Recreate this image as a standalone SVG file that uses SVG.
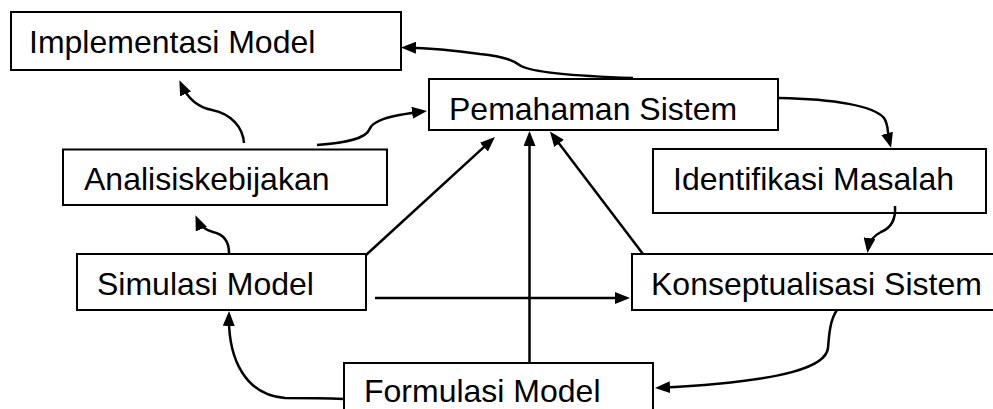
<svg xmlns="http://www.w3.org/2000/svg" width="993" height="409" viewBox="0 0 993 409">
  <style>
    .box { fill: #ffffff; stroke: #000000; stroke-width: 2; }
    .label { font-family: "Liberation Sans", Arial, sans-serif; font-size: 32px; fill: #000000; }
    .link { fill: none; stroke: #000000; stroke-width: 2.5; marker-end: url(#head); }
  </style>
  <defs>
    <marker id="head" markerUnits="userSpaceOnUse" viewBox="0 0 15 12" markerWidth="15" markerHeight="12" refX="11" refY="6" orient="auto">
      <path d="M0,0 L15,6 L0,12 z" fill="#000000"/>
    </marker>
  </defs>
  <rect width="993" height="409" fill="#ffffff"/>

  <!-- nodes -->
  <g id="implementasi-model">
    <rect class="box" x="11" y="12" width="390" height="58"/>
    <text class="label" x="29" y="53">Implementasi Model</text>
  </g>
  <g id="pemahaman-sistem">
    <rect class="box" x="429" y="79" width="349" height="51"/>
    <text class="label" x="449" y="119.5">Pemahaman Sistem</text>
  </g>
  <g id="identifikasi-masalah">
    <rect class="box" x="653" y="149" width="333" height="64"/>
    <text class="label" x="673" y="190">Identifikasi Masalah</text>
  </g>
  <g id="analisis-kebijakan">
    <rect class="box" x="63" y="149.5" width="324" height="55.5"/>
    <text class="label" x="84" y="190">Analisiskebijakan</text>
  </g>
  <g id="simulasi-model">
    <rect class="box" x="77" y="254" width="289" height="56"/>
    <text class="label" x="97" y="295">Simulasi Model</text>
  </g>
  <g id="konseptualisasi-sistem">
    <rect class="box" x="632" y="254" width="372" height="56"/>
    <text class="label" x="651" y="295">Konseptualisasi Sistem</text>
  </g>
  <g id="formulasi-model">
    <rect class="box" x="344" y="363" width="309" height="62"/>
    <text class="label" x="364" y="402">Formulasi Model</text>
  </g>

  <!-- connectors -->
  <g id="connectors">
    <!-- Pemahaman Sistem -> Implementasi Model -->
    <path class="link" d="M633,78 C575,76 532,72 521,66 C514,61 507,57 480,54 C452,50 428,48 405,47.5"/>
    <!-- Pemahaman Sistem -> Identifikasi Masalah -->
    <path class="link" d="M779,98 C835,99 874,106 884,118 C889,125 887,133 890,144"/>
    <!-- Identifikasi Masalah -> Konseptualisasi Sistem -->
    <path class="link" d="M895,206 C896,220 891,228 881,232 C873,236 869,242 868,249"/>
    <!-- Konseptualisasi Sistem -> Formulasi Model -->
    <path class="link" d="M837,310 C830,320 829,335 828,348 C826,366 790,381 659,387.8"/>
    <!-- Formulasi Model -> Simulasi Model -->
    <path class="link" d="M344,399 C320,398 300,398 285,398 C246,395 228,360 229,315"/>
    <!-- Simulasi Model -> Analisiskebijakan -->
    <path class="link" d="M229,253 C229,240 222,234 213,232 C205,230 200,226 197,219"/>
    <!-- Analisiskebijakan -> Implementasi Model -->
    <path class="link" d="M244,143 C243,128 232,114 212,110 C196,107 187,97 181,84"/>
    <!-- Analisiskebijakan -> Pemahaman Sistem -->
    <path class="link" d="M317,145 C345,143 366,138 369,130 C372,121 386,116 423,111.5"/>
    <!-- Simulasi Model -> Pemahaman Sistem -->
    <path class="link" d="M366,255 L492,139.7"/>
    <!-- Formulasi Model -> Pemahaman Sistem -->
    <path class="link" d="M529.5,363 L529.5,135"/>
    <!-- Konseptualisasi Sistem -> Pemahaman Sistem -->
    <path class="link" d="M643,254 L552.4,134.7"/>
    <!-- Simulasi Model -> Konseptualisasi Sistem -->
    <path class="link" d="M375,298 L626,298"/>
  </g>
</svg>
